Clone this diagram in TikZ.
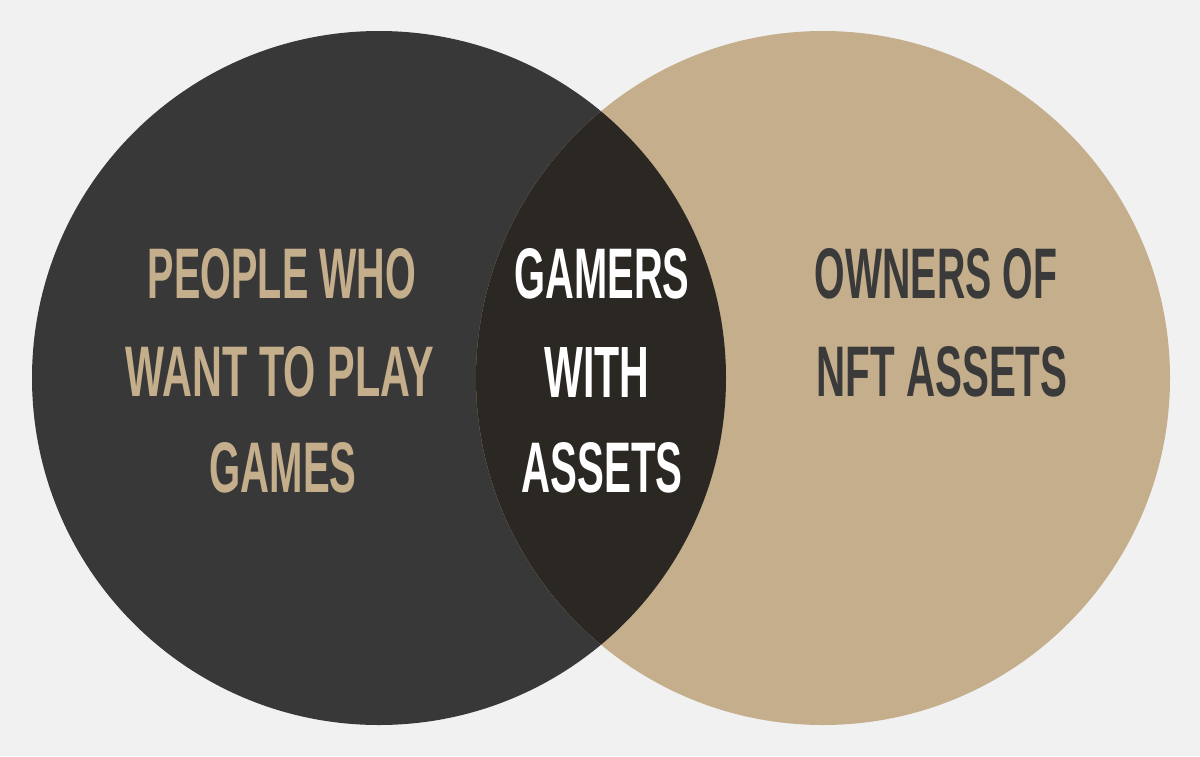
\documentclass[tikz,border=0pt]{standalone}
\usepackage{fontspec}
\setmainfont{Liberation Sans}
\definecolor{bgc}{HTML}{F1F1F1}
\definecolor{darkc}{HTML}{383838}
\definecolor{tanc}{HTML}{C4AE8C}
\definecolor{midc}{HTML}{2B2722}
\definecolor{rtext}{HTML}{3A3A3A}
\begin{document}
\begin{tikzpicture}[x=1pt,y=-1pt,
  lbl/.style={inner sep=0pt,font=\bfseries},
]
\useasboundingbox (0,0) rectangle (1200,756);
\fill[bgc] (0,0) rectangle (1200,756);
\fill[darkc] (379,378) circle (347);
\fill[tanc] (823,378) circle (347);
\begin{scope}
  \clip (379,378) circle (347);
  \fill[midc] (823,378) circle (347);
\end{scope}
% left texts
\node[lbl,text=tanc] (l1) at (282,274) {\resizebox{268pt}{50pt}{PEOPLE WHO}};
\node[lbl,text=tanc] (l2) at (280,372) {\resizebox{308pt}{50pt}{WANT TO PLAY}};
\node[lbl,text=tanc] (l3) at (283,468) {\resizebox{147pt}{50pt}{GAMES}};
% center texts
\node[lbl,text=white] (c1) at (602,274) {\resizebox{175pt}{50pt}{GAMERS}};
\node[lbl,text=white] (c2) at (597,372) {\resizebox{105pt}{50pt}{WITH}};
\node[lbl,text=white] (c3) at (602,468) {\resizebox{161pt}{50pt}{ASSETS}};
% right texts
\node[lbl,text=rtext] (r1) at (936,274) {\resizebox{242pt}{50pt}{OWNERS OF}};
\node[lbl,text=rtext] (r2) at (942,372) {\resizebox{251pt}{50pt}{NFT ASSETS}};
\end{tikzpicture}
\end{document}
